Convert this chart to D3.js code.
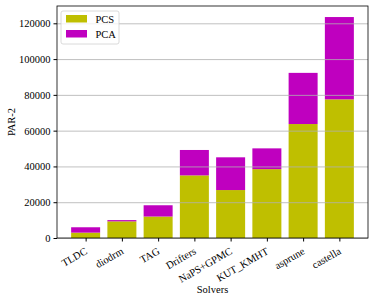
<!DOCTYPE html>
<html>
<head>
<meta charset="utf-8">
<script src="https://cdn.jsdelivr.net/npm/d3@7"></script>
<style>
  body { margin: 0; background: #fff; }
  svg text { font-family: "Liberation Serif", "DejaVu Serif", serif; }
</style>
</head>
<body>
<div id="chart"></div>
<script>
// data
var solvers = ["TLDC", "diodrm", "TAG", "Drifters", "NaPS+GPMC", "KUT_KMHT", "asprune", "castella"]
var pcs = [3000, 9300, 12000, 35000, 26800, 38500, 63700, 77500]
var pca = [3000, 700, 6300, 14200, 18300, 11600, 28600, 46000]
var yTicks = [0, 20000, 40000, 60000, 80000, 100000, 120000]

var width = 374, height = 301
var margin = {top: 6, right: 6, bottom: 63, left: 57}

var svg = d3.select("#chart")
  .append("svg")
  .attr("width", width)
  .attr("height", height)

// x scale like matplotlib: index positions with margins
var xScale = d3.scaleLinear()
  .domain([-0.79, solvers.length - 1 + 0.79])
  .range([margin.left, width - margin.right])

var totals = pcs.map((d, i) => d + pca[i])
var yScale = d3.scaleLinear()
  .domain([0, d3.max(totals) * 1.05])
  .range([height - margin.bottom, margin.top])

var barW = xScale(0.8) - xScale(0)

// bars
var barsG = svg.append("g").attr("class", "bars")

barsG.selectAll(".pcs")
  .data(pcs)
  .enter()
  .append("rect")
  .attr("class", "pcs")
  .attr("x", (d, i) => xScale(i) - barW / 2)
  .attr("width", barW)
  .attr("y", d => yScale(d))
  .attr("height", d => yScale(0) - yScale(d))
  .attr("fill", "#bfbf00")

barsG.selectAll(".pca")
  .data(pca)
  .enter()
  .append("rect")
  .attr("class", "pca")
  .attr("x", (d, i) => xScale(i) - barW / 2)
  .attr("width", barW)
  .attr("y", (d, i) => yScale(d + pcs[i]))
  .attr("height", (d, i) => yScale(pcs[i]) - yScale(d + pcs[i]))
  .attr("fill", "#bf00bf")

// grid over bars
var yGrid = d3.axisLeft(yScale)
  .tickValues(yTicks)
  .tickSize(-(width - margin.left - margin.right))
  .tickFormat("")

svg.append("g")
  .attr("class", "grid")
  .attr("transform", `translate(${margin.left},0)`)
  .call(yGrid)
  .call(g => g.select(".domain").remove())
  .selectAll("line")
  .attr("stroke", "#b0b0b0")
  .attr("stroke-opacity", 0.8)

// frame
svg.append("rect")
  .attr("x", margin.left)
  .attr("y", margin.top)
  .attr("width", width - margin.left - margin.right)
  .attr("height", height - margin.top - margin.bottom)
  .attr("fill", "none")
  .attr("stroke", "#000")
  .attr("stroke-width", 0.8)

// y axis
var yAxis = d3.axisLeft(yScale)
  .tickValues(yTicks)
  .tickSize(3.5)
  .tickPadding(3)
  .tickFormat(d => d)

svg.append("g")
  .attr("class", "y-axis")
  .attr("transform", `translate(${margin.left},0)`)
  .call(yAxis)
  .call(g => g.select(".domain").remove())
  .selectAll("text")
  .style("font-size", "10.5px")
  .style("fill", "#000")

// x axis
var xAxis = d3.axisBottom(xScale)
  .tickValues(d3.range(solvers.length))
  .tickSize(3.5)
  .tickFormat(i => solvers[i])

var xRender = svg.append("g")
  .attr("class", "x-axis")
  .attr("transform", `translate(0,${height - margin.bottom})`)
  .call(xAxis)
  .call(g => g.select(".domain").remove())

xRender.selectAll("text")
  .style("font-size", "10.5px")
  .style("fill", "#000")
  .style("text-anchor", "end")
  .attr("dy", "0.35em")
  .attr("y", 0)
  .attr("transform", "translate(0,12) rotate(-30)")

// axis labels
svg.append("text")
  .attr("text-anchor", "middle")
  .attr("x", (margin.left + width - margin.right) / 2)
  .attr("y", 293)
  .style("font-size", "10.5px")
  .text("Solvers")

svg.append("text")
  .attr("text-anchor", "middle")
  .attr("transform", `translate(15,${(margin.top + height - margin.bottom) / 2}) rotate(-90)`)
  .style("font-size", "10.5px")
  .text("PAR-2")

// legend
var legend = svg.append("g").attr("class", "legend")
legend.append("rect")
  .attr("x", 61).attr("y", 11)
  .attr("width", 58).attr("height", 33)
  .attr("rx", 2)
  .attr("fill", "#fff")
  .attr("fill-opacity", 0.8)
  .attr("stroke", "#d0d0d0")
  .attr("stroke-width", 0.8)

var legendItems = [{name: "PCS", color: "#bfbf00"}, {name: "PCA", color: "#bf00bf"}]
legend.selectAll(".item")
  .data(legendItems)
  .enter()
  .append("rect")
  .attr("x", 66)
  .attr("y", (d, i) => 15 + i * 15)
  .attr("width", 21)
  .attr("height", 7.5)
  .attr("fill", d => d.color)

legend.selectAll(".label")
  .data(legendItems)
  .enter()
  .append("text")
  .attr("x", 95.5)
  .attr("y", (d, i) => 22.5 + i * 15)
  .style("font-size", "10.5px")
  .text(d => d.name)
</script>
</body>
</html>
